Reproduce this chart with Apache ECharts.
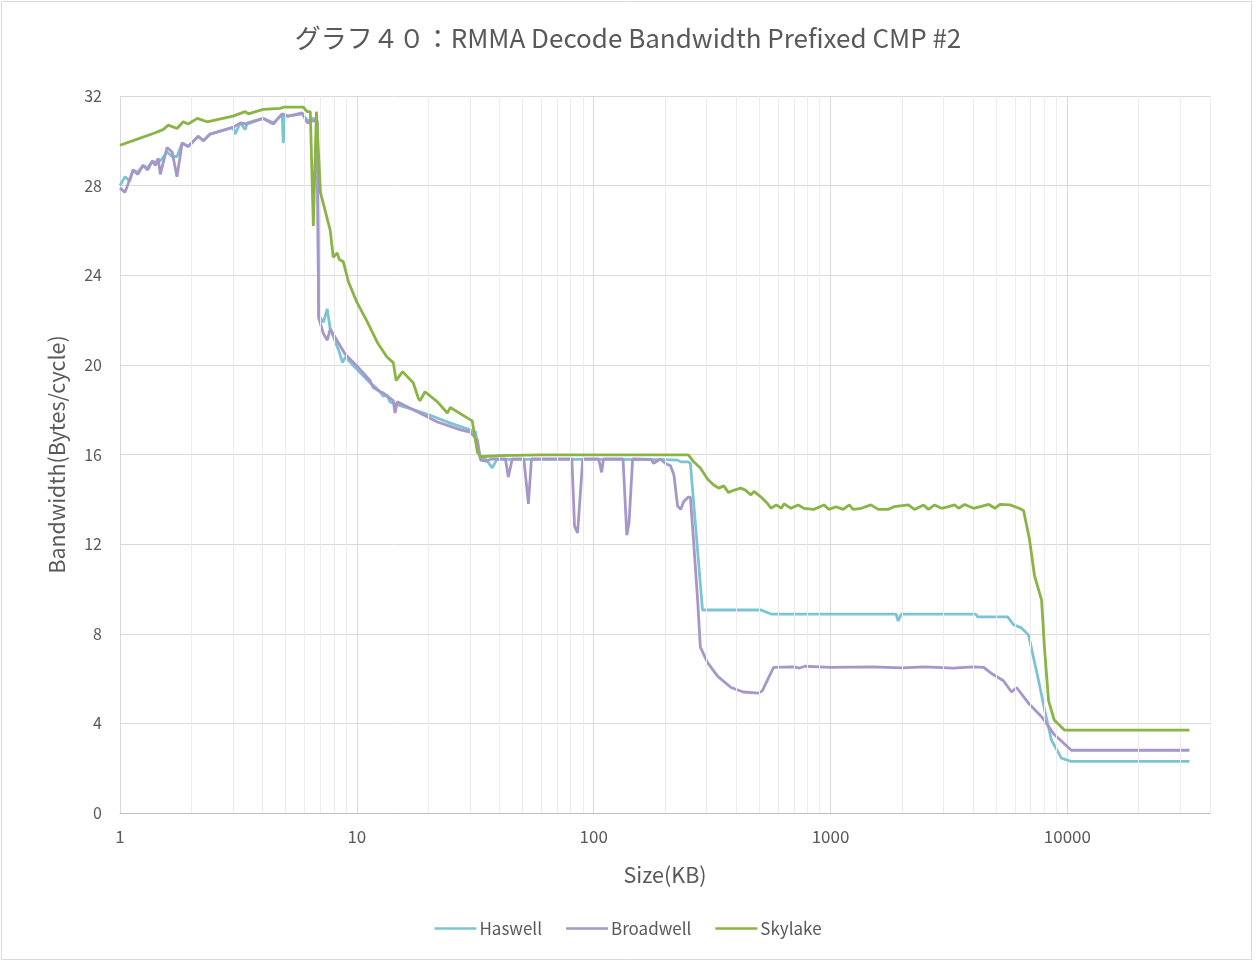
<!DOCTYPE html>
<html>
<head>
<meta charset="utf-8">
<script src="https://cdn.jsdelivr.net/npm/echarts@6/dist/echarts.min.js"></script>
<style>
html,body{margin:0;padding:0;background:#fff;}
#chart{width:1256px;height:963px;}
</style>
</head>
<body>
<div id="chart"></div>
<script>
var titleText = 'グラフ４０：RMMA Decode Bandwidth Prefixed CMP #2';
var seriesNames = ['Haswell', 'Broadwell', 'Skylake'];
var yTicks = [0, 4, 8, 12, 16, 20, 24, 28, 32];
var xMajorTicks = [1, 10, 100, 1000, 10000];

var haswell = [
  [1,28.0],[1.05,28.4],[1.1,28.2],[1.135,28.7],[1.19,28.6],[1.25,28.9],[1.31,28.8],[1.37,29.1],[1.41,29.0],
  [1.45,29.2],[1.48,29.1],[1.58,29.5],[1.66,29.3],[1.74,29.3],[1.83,29.9],[1.94,29.75],[2.14,30.2],[2.25,30.0],
  [2.4,30.3],[3.0,30.6],[3.06,30.3],[3.22,30.8],[3.38,30.5],[3.44,30.8],[4.02,31.0],[4.44,30.8],[4.84,31.2],
  [4.89,29.9],[4.98,31.1],[5.13,31.1],[5.88,31.2],[6.18,30.9],[6.55,31.0],[6.8,30.9],[6.9,22.2],[7.22,21.9],
  [7.5,22.5],[7.72,21.6],[8.35,20.7],[8.7,20.1],[8.94,20.35],[10,19.8],[11.37,19.2],[11.7,19.1],[12.55,18.8],
  [12.9,18.6],[13.4,18.65],[13.8,18.35],[14.5,18.25],[16.8,18.05],[20.4,17.75],[24.8,17.4],[30.1,17.1],[31.7,17.0],
  [32.6,16.2],[33.3,15.8],[35,15.8],[37.3,15.4],[39,15.78],[60,15.78],[100,15.78],[200,15.77],[226,15.75],
  [233,15.67],[251,15.67],[256,15.6],[288,9.06],[509,9.06],[561,8.88],[1890,8.88],[1930,8.57],[1990,8.88],
  [4100,8.88],[4180,8.75],[5600,8.75],[5930,8.4],[6400,8.26],[6850,7.95],[7560,5.9],[8010,4.6],[8560,3.26],
  [9430,2.45],[10390,2.3],[32768,2.3]
];

var broadwell = [
  [1,27.9],[1.05,27.7],[1.135,28.7],[1.19,28.5],[1.25,28.9],[1.31,28.7],[1.37,29.1],[1.41,28.9],[1.45,29.2],
  [1.48,28.5],[1.58,29.7],[1.66,29.5],[1.74,28.4],[1.83,29.9],[1.94,29.75],[2.14,30.2],[2.25,30.0],[2.4,30.3],
  [3.0,30.6],[3.22,30.8],[3.44,30.75],[4.02,31.0],[4.44,30.75],[4.84,31.2],[5.13,31.1],[5.88,31.25],[6.18,30.8],
  [6.55,30.9],[6.8,30.85],[6.9,22.1],[7.22,21.4],[7.5,21.1],[7.72,21.6],[8.9,20.5],[10,19.95],[11.37,19.3],
  [11.7,19.0],[12.55,18.8],[12.9,18.75],[14.25,18.4],[14.5,17.85],[14.8,18.35],[17.3,18.0],[21.9,17.45],
  [27.4,17.1],[30.1,17.0],[32.3,16.65],[33.3,15.75],[35,15.7],[37,15.8],[42.4,15.8],[43.6,15.0],[45.3,15.8],
  [50.7,15.8],[53,13.8],[54.6,15.8],[80.9,15.8],[83,12.8],[85.5,12.5],[89.9,15.8],[105,15.8],[108,15.2],
  [110,15.8],[133,15.8],[138,12.4],[141,12.95],[146,15.8],[175,15.78],[179,15.6],[191,15.8],[201,15.6],
  [211,15.5],[218,15.1],[226,13.7],[233,13.55],[240,13.9],[251,14.1],[256,14.1],[265,11.9],[275,9.4],
  [282,7.4],[303,6.7],[334,6.1],[380,5.6],[428,5.4],[496,5.35],[515,5.45],[545,6.0],[575,6.5],[700,6.52],
  [740,6.47],[780,6.55],[1000,6.5],[1500,6.52],[2000,6.48],[2500,6.52],[3300,6.47],[4000,6.52],[4430,6.5],
  [4750,6.25],[5370,5.9],[5810,5.4],[6100,5.6],[6850,4.9],[7780,4.3],[8800,3.5],[10390,2.8],[32768,2.8]
];

var skylake = [
  [1,29.8],[1.2,30.1],[1.4,30.35],[1.52,30.5],[1.6,30.7],[1.74,30.55],[1.85,30.85],[1.94,30.75],[2.12,31.0],
  [2.33,30.85],[3.0,31.1],[3.38,31.3],[3.48,31.2],[4.02,31.4],[4.75,31.45],[4.89,31.5],[5.94,31.5],[6.18,31.3],
  [6.36,31.3],[6.55,26.2],[6.75,31.3],[7.02,27.7],[7.22,27.2],[7.72,26.0],[7.95,24.8],[8.26,25.0],[8.43,24.7],
  [8.77,24.6],[9.22,23.7],[10,22.8],[11.1,21.9],[12.2,21.0],[13.4,20.35],[14.25,20.1],[14.65,19.3],[15.6,19.7],
  [17.3,19.2],[18.2,18.5],[18.5,18.4],[19.4,18.8],[21.9,18.35],[24.1,17.85],[24.8,18.1],[29.6,17.6],[30.7,17.5],
  [32.3,16.1],[33.3,15.9],[40,15.95],[60,15.98],[100,15.98],[200,15.98],[251,15.98],[263,15.7],[282,15.4],
  [303,14.9],[320,14.65],[337,14.5],[354,14.6],[371,14.3],[389,14.4],[418,14.5],[438,14.4],[461,14.2],
  [475,14.35],[509,14.1],[543,13.8],[561,13.6],[590,13.75],[620,13.6],[637,13.8],[680,13.6],[730,13.75],
  [771,13.6],[850,13.55],[938,13.75],[985,13.55],[1055,13.67],[1130,13.55],[1200,13.75],[1245,13.55],
  [1350,13.6],[1480,13.75],[1590,13.55],[1750,13.55],[1855,13.67],[2130,13.75],[2260,13.55],[2470,13.75],
  [2590,13.55],[2750,13.75],[2940,13.6],[3150,13.67],[3340,13.75],[3470,13.6],[3680,13.77],[4020,13.6],
  [4660,13.77],[4940,13.6],[5190,13.77],[5720,13.75],[6250,13.6],[6530,13.5],[6920,12.2],[7260,10.6],
  [7780,9.5],[8010,7.3],[8330,5.0],[8800,4.15],[9710,3.7],[32768,3.7]
];

var colors = ['#7cc4d4', '#a797c8', '#8ab446'];

// minor vertical grid positions (2..9 in each decade)
var minorGrid = [];
for (var d = 1; d <= 10000; d *= 10) {
  for (var m = 2; m <= 9; m++) {
    if (m * d <= 40000) minorGrid.push({ xAxis: m * d });
  }
}

var chart = echarts.init(document.getElementById('chart'));
var font = 'Noto Sans CJK JP';
function lineSeries(i, data, z) {
  return {
    name: seriesNames[i], type: 'line', data: data, symbol: 'none', z: z,
    itemStyle: { color: colors[i] },
    lineStyle: { width: 2.8, color: colors[i] }
  };
}
chart.setOption({
  animation: false,
  backgroundColor: '#ffffff',
  title: {
    text: titleText,
    left: 'center',
    top: 20,
    textStyle: { fontFamily: font, fontSize: 26, fontWeight: 'normal', color: '#595959' }
  },
  graphic: [{
    type: 'rect',
    shape: { x: 1.5, y: 1.5, width: 1250, height: 958 },
    style: { fill: 'none', stroke: '#d9d9d9', lineWidth: 1 },
    silent: true
  }],
  legend: {
    data: seriesNames,
    bottom: 21,
    left: 'center',
    itemWidth: 42,
    itemHeight: 12,
    itemGap: 24,
    icon: 'path://M0,5 L42,5 L42,7.5 L0,7.5 Z',
    textStyle: { fontFamily: font, fontSize: 17, color: '#595959', padding: [0, 0, 0, -2] }
  },
  grid: { left: 120, right: 46, top: 96, bottom: 150, containLabel: false },
  xAxis: {
    type: 'log',
    logBase: 10,
    min: 1,
    max: 40000,
    name: 'Size(KB)',
    nameLocation: 'middle',
    nameGap: 51,
    nameTextStyle: { fontFamily: font, fontSize: 21.5, color: '#595959' },
    axisLine: { show: true, lineStyle: { color: '#bfbfbf', width: 1 } },
    axisTick: { show: false },
    axisLabel: {
      fontFamily: font, fontSize: 17, color: '#595959', margin: 15,
      showMaxLabel: false,
      formatter: function (v) { return xMajorTicks.indexOf(Math.round(v)) >= 0 ? String(Math.round(v)) : ''; }
    },
    splitLine: { show: true, lineStyle: { color: '#d9d9d9', width: 1 } }
  },
  yAxis: {
    type: 'value',
    min: yTicks[0],
    max: yTicks[yTicks.length - 1],
    interval: 4,
    name: 'Bandwidth(Bytes/cycle)',
    nameLocation: 'middle',
    nameGap: 52,
    nameTextStyle: { fontFamily: font, fontSize: 21.5, color: '#595959' },
    axisLine: { show: false },
    axisTick: { show: false },
    axisLabel: { fontFamily: font, fontSize: 16, color: '#595959', margin: 18 },
    splitLine: { show: true, lineStyle: { color: '#d9d9d9', width: 1 } }
  },
  series: [
    lineSeries(0, haswell, 3),
    lineSeries(1, broadwell, 4),
    lineSeries(2, skylake, 5),
    {
      name: '__minor',
      type: 'line',
      data: [],
      z: 1,
      silent: true,
      markLine: {
        silent: true,
        symbol: ['none', 'none'],
        label: { show: false },
        lineStyle: { color: '#ececec', width: 1, type: 'solid' },
        data: minorGrid,
        animation: false
      }
    }
  ]
});
</script>
</body>
</html>
